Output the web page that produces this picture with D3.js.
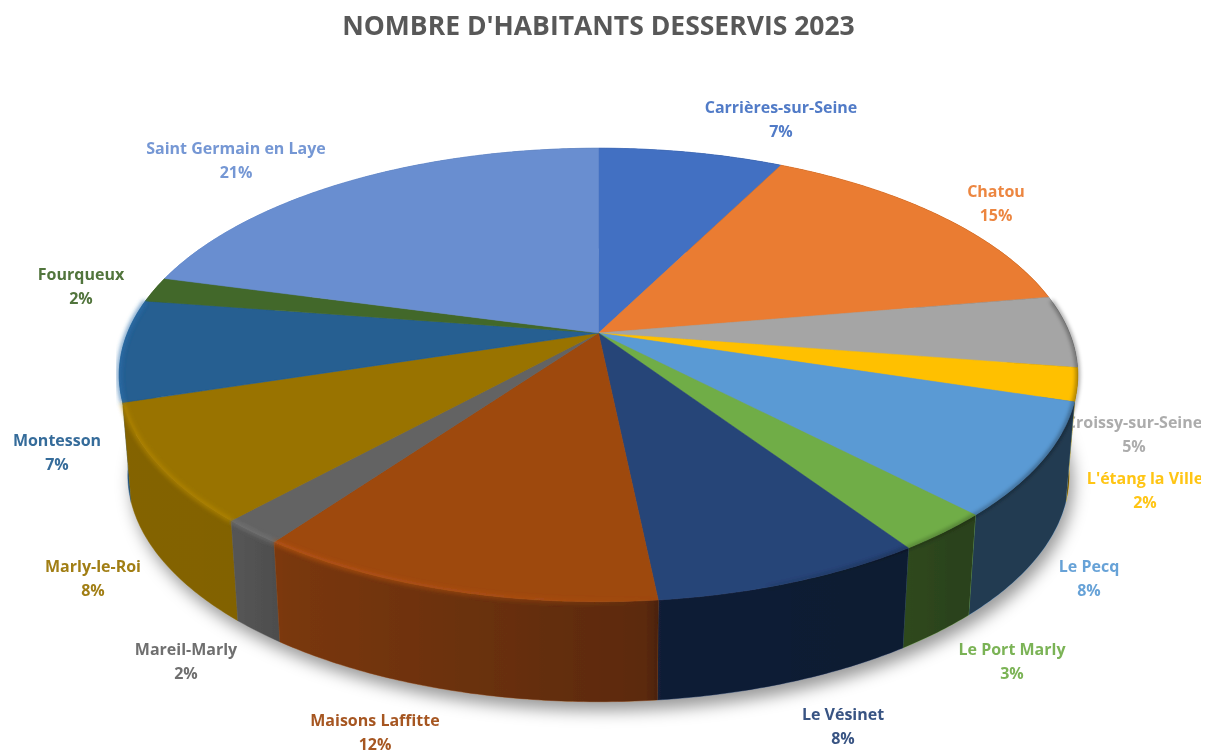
<!DOCTYPE html>
<html>
<head>
<meta charset="utf-8">
<script src="https://cdn.jsdelivr.net/npm/d3@7/dist/d3.min.js"></script>
<style>
html,body{margin:0;padding:0;background:#fff;overflow:hidden}
text{font-family:"Open Sans",sans-serif}
</style>
</head>
<body>
<div id="chart"></div>
<script>
const chartTitle = "NOMBRE D'HABITANTS DESSERVIS 2023";
const communes = ["Carrières-sur-Seine","Chatou","Croissy-sur-Seine","L'étang la Ville","Le Pecq","Le Port Marly","Le Vésinet","Maisons Laffitte","Mareil-Marly","Marly-le-Roi","Montesson","Fourqueux","Saint Germain en Laye"];
const shares = [7.45,14.85,5.15,2.35,8.0,2.8,7.75,11.6,1.8,8.4,7.25,1.8,20.8];
const sliceColours = ["#4270c2","#ea7c31","#a5a5a5","#ffc000","#5a9ad4","#70ad47","#264478","#9e480e","#636363","#997300","#255e91","#43682b","#698ed0"];
// manual label placement (centre x, y of the name line)
const labelX = [781,996,1134,1145,1089,1012,843,375,186,93,57,81,236];
const labelY = [107,191,422,478,566,649,714,720,649,566,440,274,148];

const W = 1209, H = 754;
const svg = d3.select("#chart").append("svg").attr("width",W).attr("height",H).style("display","block");
const defs = svg.append("defs");

// perspective projection of the disc
const cx = 598.5, cy = 333, R = 471, S = 219, k = 0.185, depth = 100, shrink = 0.982;
function topPt(a){ const u=Math.sin(a), v=Math.cos(a), w=1+k*v; return [cx+R*u/w, cy-S*v/w]; }
function bottomPt(a){ const p=topPt(a); return [cx+(p[0]-cx)*shrink, p[1]+depth]; }
const line = d3.line();
function samples(a0,a1){ const n=Math.max(2,Math.ceil((a1-a0)/0.01)); return d3.range(n+1).map(i=>a0+(a1-a0)*i/n); }

const arcs = d3.pie().sort(null).value(d=>d)(shares);
const colour = d3.scaleOrdinal(communes, sliceColours);
const total = d3.sum(shares);
const pct = d3.format(".0%");

const addBlur = (id,sd)=>defs.append("filter").attr("id",id).attr("x","-10%").attr("y","-10%").attr("width","120%").attr("height","130%")
  .append("feGaussianBlur").attr("stdDeviation",sd);
addBlur("shadowBlur",8); addBlur("rimBlur",2); addBlur("soft",0.5); addBlur("textSoft",0.35);

// wall darkening across the width
const xOffset = d3.scaleLinear().domain([118,1078]).range([0,1]);
const wallShade = [[118,.14],[240,.15],[285,.23],[645,.42],[662,.56],[900,.58],[960,.62],[1078,.62]];
const wallGrad = defs.append("linearGradient").attr("id","wallShade").attr("gradientUnits","userSpaceOnUse")
  .attr("x1",118).attr("x2",1078).attr("y1",0).attr("y2",0);
wallShade.forEach(s=>wallGrad.append("stop").attr("offset",xOffset(s[0])).attr("stop-color","#000").attr("stop-opacity",s[1]));

// title
svg.append("text").attr("x",598.5).attr("y",35).attr("text-anchor","middle")
  .attr("font-size",26.5).attr("font-weight",700).attr("fill","#595959").attr("filter","url(#textSoft)").text(chartTitle);

// labels sit under the pie and are cut at the right edge
defs.append("clipPath").attr("id","labelClip").append("rect").attr("x",0).attr("y",0).attr("width",1201).attr("height",H);
const labels = svg.append("g").attr("clip-path","url(#labelClip)").append("g").attr("filter","url(#textSoft)");
communes.forEach((c,i)=>{
  const g = labels.append("text").attr("text-anchor","middle").attr("font-size",16).attr("font-weight",700).attr("fill",colour(c)).attr("fill-opacity",.92);
  g.append("tspan").attr("x",labelX[i]).attr("y",labelY[i]+5.5).text(c);
  g.append("tspan").attr("x",labelX[i]).attr("y",labelY[i]+29.5).text(pct(shares[i]/total));
});

// shadow under the disc
svg.append("path").attr("d",line(samples(0,2*Math.PI).map(bottomPt))+"Z")
  .attr("transform","translate(4,9)").attr("fill","#000").attr("fill-opacity",.4).attr("filter","url(#shadowBlur)");

const pie = svg.append("g").attr("filter","url(#soft)");
// walls, far ones first
const order = arcs.slice().sort((a,b)=>topPt((a.startAngle+a.endAngle)/2)[1]-topPt((b.startAngle+b.endAngle)/2)[1]);
order.forEach(d=>{
  const ang = samples(d.startAngle,d.endAngle);
  const path = line(ang.map(topPt).concat(ang.slice().reverse().map(bottomPt)))+"Z";
  const c = sliceColours[d.index];
  pie.append("path").attr("d",path).attr("fill",c).attr("stroke",c).attr("stroke-width",.5);
  pie.append("path").attr("d",path).attr("fill","url(#wallShade)");
});
// top faces
arcs.forEach(d=>{
  const pts = [[cx,cy]].concat(samples(d.startAngle,d.endAngle).map(topPt));
  pie.append("path").attr("d",line(pts)+"Z").attr("fill",sliceColours[d.index]).attr("stroke",sliceColours[d.index]).attr("stroke-width",.5).attr("stroke-linejoin","round");
});
// bevel along the rim: light on the front left, dark on the right
arcs.forEach(d=>{
  const ang = samples(d.startAngle,d.endAngle);
  const id = "rim"+d.index;
  const light = d3.color(sliceColours[d.index]).brighter(.5).formatHex();
  const g = defs.append("linearGradient").attr("id",id).attr("gradientUnits","userSpaceOnUse")
    .attr("x1",118).attr("x2",1078).attr("y1",0).attr("y2",0);
  [[118,.7],[300,.7],[540,.35],[660,0]].forEach(s=>g.append("stop").attr("offset",xOffset(s[0])).attr("stop-color",light).attr("stop-opacity",s[1]));
  if (d.endAngle > Math.PI && d.startAngle < 4.45) {
    pie.append("path").attr("d",line(ang.map(topPt))).attr("fill","none").attr("stroke","url(#"+id+")").attr("stroke-width",4.5).attr("filter","url(#rimBlur)");
  }
});
const darkRim = defs.append("linearGradient").attr("id","darkRim").attr("gradientUnits","userSpaceOnUse")
  .attr("x1",118).attr("x2",1078).attr("y1",0).attr("y2",0);
[[700,0],[880,.3],[1078,.5]].forEach(s=>darkRim.append("stop").attr("offset",xOffset(s[0])).attr("stop-color","#000").attr("stop-opacity",s[1]));
pie.append("path").attr("d",line(samples(1.42,Math.PI-.3).map(topPt))).attr("fill","none").attr("stroke","url(#darkRim)").attr("stroke-width",3).attr("filter","url(#rimBlur)");
</script>
</body>
</html>
